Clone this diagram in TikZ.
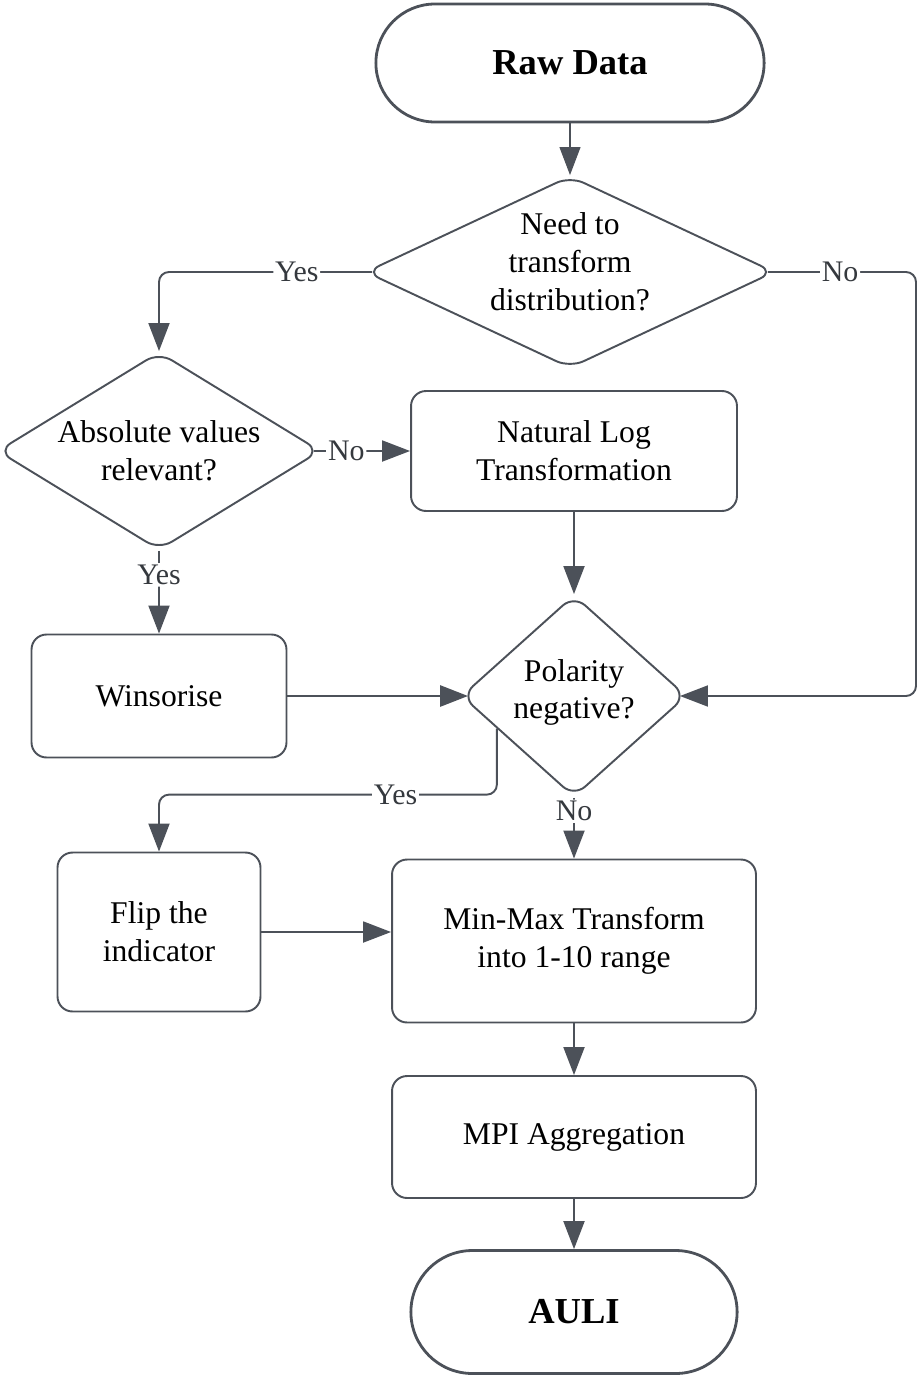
\documentclass[tikz,border=0pt]{standalone}
\usepackage{fontspec}
\setmainfont{Liberation Serif}
\usetikzlibrary{arrows.meta,positioning,shapes.geometric,shapes.misc,calc}
\definecolor{edgegray}{RGB}{76,81,89}

\begin{document}
\begin{tikzpicture}[
  x=0.02cm, y=-0.02cm,
  every node/.style={font=\fontsize{18}{21.6}\selectfont},
  term/.style={draw=edgegray, line width=1.6pt, rounded rectangle,
               minimum width=#1, minimum height=2.36cm,
               font=\fontsize{20.8}{24}\selectfont\bfseries},
  proc/.style={draw=edgegray, line width=1.1pt, rounded corners=0.3cm,
               align=center, inner sep=2pt},
  decide/.style={draw=edgegray, line width=1.1pt, diamond, align=center,
                 rounded corners=0.3cm, inner sep=0pt},
  arr/.style={-{Triangle[length=0.56cm, width=0.42cm]}, draw=edgegray,
              line width=1.1pt, rounded corners=0.2cm},
  fromcorner/.style={shorten <=-0.15cm},
  tocorner/.style={shorten >=-0.15cm},
  lbl/.style={fill=white, text=edgegray!70!black, inner sep=1pt,
              font=\fontsize{17}{20}\selectfont}]
\useasboundingbox (0,0) rectangle (923,1379);
% nodes
\node[term=8.0cm] (raw) at (570,63) {Raw Data};
\node[decide, aspect=2.15, inner sep=-3pt, minimum width=8.18cm, minimum height=3.84cm,
      text depth=0.42cm] (need) at (570,272) {Need to\\transform\\distribution?};
\node[decide, aspect=1.64, minimum width=6.46cm, minimum height=3.96cm] (absval) at (159,451) {Absolute values\\relevant?};
\node[proc, minimum width=6.52cm, minimum height=2.4cm] (lnlog) at (574,451) {Natural Log\\Transformation};
\node[proc, minimum width=5.1cm, minimum height=2.46cm] (wins) at (159,696) {Winsorise};
\node[decide, aspect=1.11, minimum width=4.5cm, minimum height=4.04cm,
      text depth=0.28cm] (polar) at (574,696) {Polarity\\negative?};
\node[proc, minimum width=4.06cm, minimum height=3.18cm] (flip) at (159,932) {Flip the\\indicator};
\node[proc, minimum width=7.28cm, minimum height=3.26cm] (minmax) at (574,941) {Min-Max Transform\\into 1-10 range};
\node[proc, minimum width=7.28cm, minimum height=2.44cm] (mpi) at (574,1137) {MPI Aggregation};
\node[term=6.76cm, minimum height=2.46cm] (auli) at (574,1312) {AULI};
\coordinate (rt) at (916,272);
% connectors
\draw[arr, line width=0.6pt] (raw.south) -- (need.north);
\draw[arr, fromcorner] (need.west) -| node[pos=0.165, lbl]{Yes} (absval.north);
\draw[arr, fromcorner, tocorner] (need.east) -- node[pos=0.46, lbl]{No} (rt) |- (polar.east);
\draw[arr, fromcorner] (absval.east) -- node[pos=0.28, lbl]{No} (lnlog.west);
\draw[arr] (absval.south) -- node[pos=0.29, lbl]{Yes} (wins.north);
\draw[arr] (lnlog.south) -- (polar.north);
\draw[arr, tocorner, line width=1.6pt] (wins.east) -- (polar.west);
\draw[arr] ($(polar.west)!0.32!(polar.south)$) -- ++(0,66)
  -| node[pos=0.15, lbl]{Yes} (flip.north);
\draw[arr] (polar.south) -- node[pos=0.22, lbl]{No} (minmax.north);
\draw[arr] (flip.east) -- (flip.east -| minmax.west);
\draw[arr] (minmax.south) -- (mpi.north);
\draw[arr] (mpi.south) -- (auli.north);
\end{tikzpicture}
\end{document}
